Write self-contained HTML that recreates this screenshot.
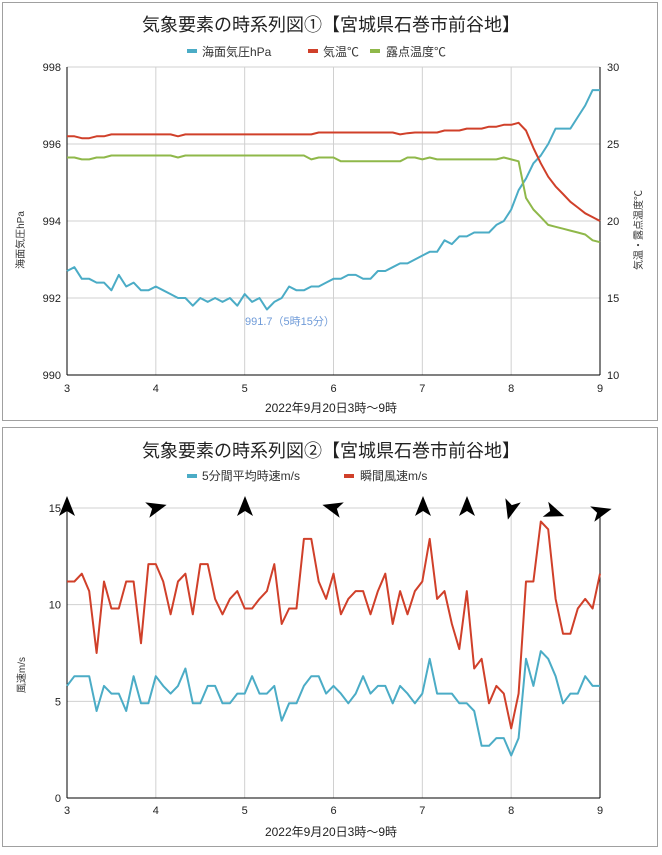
<!DOCTYPE html>
<html><head><meta charset="utf-8"><style>
body{margin:0;background:#fff;}
svg text{font-family:"Liberation Sans","Noto Sans CJK JP",sans-serif;}
</style></head><body>
<svg width="662" height="850" viewBox="0 0 662 850" xmlns="http://www.w3.org/2000/svg">
<rect x="0" y="0" width="662" height="850" fill="#fff"/>
<rect x="2.5" y="2.5" width="655" height="418" fill="none" stroke="#a0a0a0"/>
<rect x="2.5" y="427.5" width="655" height="419" fill="none" stroke="#a0a0a0"/>
<g id="c1"></g><g id="c2"></g>
<text x="331" y="31" font-size="18" text-anchor="middle" fill="#222">気象要素の時系列図①【宮城県石巻市前谷地】</text>
<rect x="187" y="49" width="10" height="4" fill="#4bacc6"/><text x="202" y="56" font-size="12" fill="#333">海面気圧hPa</text>
<rect x="308" y="49" width="10" height="4" fill="#d0402a"/><text x="323" y="56" font-size="12" fill="#333">気温℃</text>
<rect x="370" y="49" width="10" height="4" fill="#8fb84a"/><text x="386" y="56" font-size="12" fill="#333">露点温度℃</text>
<text x="24" y="240" font-size="10" fill="#333" transform="rotate(-90 24 240)" text-anchor="middle">海面気圧hPa</text>
<text x="642" y="230" font-size="10" fill="#333" transform="rotate(-90 642 230)" text-anchor="middle">気温・露点温度℃</text>
<text x="331" y="412" font-size="12" text-anchor="middle" fill="#222">2022年9月20日3時〜9時</text>
<text x="245" y="325" font-size="11" fill="#6f9bd8" text-anchor="start">991.7（5時15分）</text>
<text x="331" y="457" font-size="18" text-anchor="middle" fill="#222">気象要素の時系列図②【宮城県石巻市前谷地】</text>
<rect x="187" y="474" width="10" height="4" fill="#4bacc6"/><text x="202" y="480" font-size="12" fill="#333">5分間平均時速m/s</text>
<rect x="344" y="474" width="10" height="4" fill="#d0402a"/><text x="360" y="480" font-size="12" fill="#333">瞬間風速m/s</text>
<text x="25" y="675" font-size="10" fill="#333" transform="rotate(-90 25 675)" text-anchor="middle">風速m/s</text>
<text x="331" y="836" font-size="12" text-anchor="middle" fill="#222">2022年9月20日3時〜9時</text>
</svg>
<script>
(function(){
var NS="http://www.w3.org/2000/svg";
function el(p,t,a,txt){var e=document.createElementNS(NS,t);for(var k in a)e.setAttribute(k,a[k]);if(txt!==undefined)e.textContent=txt;p.appendChild(e);return e;}
var X0=67,X1=600;function X(h){return X0+(h-3)*(X1-X0)/6;}
var g=document.getElementById('c1');
var T=67,B=375;function Y1(p){return B-(p-990)*(B-T)/8;}
for(var h=3;h<=9;h++){el(g,'line',{x1:X(h),x2:X(h),y1:T,y2:B,stroke:'#d0d0d0'});el(g,'text',{x:X(h),y:B+17,'font-size':11,'text-anchor':'middle',fill:'#222'},h);}
for(var i=0;i<=4;i++){var p=990+2*i;el(g,'line',{x1:X0,x2:X1,y1:Y1(p),y2:Y1(p),stroke:'#d0d0d0'});
el(g,'text',{x:X0-6,y:Y1(p)+4,'font-size':11,'text-anchor':'end',fill:'#222'},p);
el(g,'text',{x:X1+7,y:Y1(p)+4,'font-size':11,fill:'#222'},10+5*i);}
el(g,'line',{x1:X0,x2:X0,y1:T,y2:B,stroke:'#000'});el(g,'line',{x1:X1,x2:X1,y1:T,y2:B,stroke:'#000'});el(g,'line',{x1:X0,x2:X1,y1:B,y2:B,stroke:'#000'});
var P=[992.7,992.8,992.5,992.5,992.4,992.4,992.2,992.6,992.3,992.4,992.2,992.2,992.3,992.2,992.1,992.0,992.0,991.8,992.0,991.9,992.0,991.9,992.0,991.8,992.1,991.9,992.0,991.7,991.9,992.0,992.3,992.2,992.2,992.3,992.3,992.4,992.5,992.5,992.6,992.6,992.5,992.5,992.7,992.7,992.8,992.9,992.9,993.0,993.1,993.2,993.2,993.5,993.4,993.6,993.6,993.7,993.7,993.7,993.9,994.0,994.3,994.8,995.1,995.5,995.7,996.0,996.4,996.4,996.4,996.7,997.0,997.4,997.4];
var R=[];
for(var k=0;k<73;k++){var t;
 if(k<2)t=996.2;else if(k<4)t=996.15;else if(k<6)t=996.2;else if(k<34)t=996.25;else if(k<48)t=996.3;else if(k<51)t=996.3;else if(k<54)t=996.35;else if(k<57)t=996.4;else t=996.45;
 R.push(t);}
R[15]=996.2;R[45]=996.25;R[46]=996.28;R[58]=996.45;R[59]=996.5;
var Rt=[996.5,996.55,996.35,995.9,995.5,995.15,994.9,994.7,994.5,994.35,994.2,994.1,994.0];
for(var k=60;k<73;k++)R[k]=Rt[k-60];
var G=[];
for(var k=0;k<73;k++){var d;
 if(k<2)d=995.65;else if(k<4)d=995.6;else if(k<6)d=995.65;else if(k<33)d=995.7;else if(k<37)d=995.65;else if(k<47)d=995.55;else d=995.6;
 G.push(d);}
G[15]=995.65;G[33]=995.6;G[46]=995.65;G[47]=995.65;G[49]=995.65;G[51]=995.6;G[56]=995.6;G[59]=995.65;
var Gt=[995.6,995.55,994.6,994.3,994.1,993.9,993.85,993.8,993.75,993.7,993.65,993.5,993.45];
for(var k=60;k<73;k++)G[k]=Gt[k-60];
function line(par,arr,f,col){var s='';for(var k=0;k<arr.length;k++){s+=(k?'L':'M')+X(3+k/12).toFixed(1)+','+f(arr[k]).toFixed(1);}el(par,'path',{d:s,fill:'none',stroke:col,'stroke-width':2,'stroke-linejoin':'round'});}
line(g,P,Y1,'#4bacc6');line(g,R,Y1,'#d0402a');line(g,G,Y1,'#8fb84a');
var g2=document.getElementById('c2');var T2=508,B2=798;function Y2(v){return B2-v*(B2-T2)/15;}
for(var h=3;h<=9;h++){el(g2,'line',{x1:X(h),x2:X(h),y1:T2,y2:B2,stroke:'#d0d0d0'});el(g2,'text',{x:X(h),y:B2+16,'font-size':11,'text-anchor':'middle',fill:'#222'},h);}
for(var v=0;v<=15;v+=5){el(g2,'line',{x1:X0,x2:X1,y1:Y2(v),y2:Y2(v),stroke:'#d0d0d0'});el(g2,'text',{x:X0-6,y:Y2(v)+4,'font-size':11,'text-anchor':'end',fill:'#222'},v);}
el(g2,'line',{x1:X0,x2:X0,y1:T2,y2:B2,stroke:'#000'});el(g2,'line',{x1:X1,x2:X1,y1:T2,y2:B2,stroke:'#000'});el(g2,'line',{x1:X0,x2:X1,y1:B2,y2:B2,stroke:'#000'});
var WR=[11.2,11.2,11.6,10.7,7.5,11.2,9.8,9.8,11.2,11.2,8.0,12.1,12.1,11.2,9.5,11.2,11.6,9.5,12.1,12.1,10.3,9.5,10.3,10.7,9.8,9.8,10.3,10.7,12.1,9.0,9.8,9.8,13.4,13.4,11.2,10.3,11.6,9.5,10.3,10.7,10.7,9.5,10.7,11.6,9.0,10.7,9.5,10.7,11.2,13.4,10.3,10.7,9.0,7.7,10.7,6.7,7.2,4.9,5.8,5.4,3.6,5.4,11.2,11.2,14.3,13.9,10.3,8.5,8.5,9.8,10.3,9.8,11.6];
var WB=[5.8,6.3,6.3,6.3,4.5,5.8,5.4,5.4,4.5,6.3,4.9,4.9,6.3,5.8,5.4,5.8,6.7,4.9,4.9,5.8,5.8,4.9,4.9,5.4,5.4,6.3,5.4,5.4,5.8,4.0,4.9,4.9,5.8,6.3,6.3,5.4,5.8,5.4,4.9,5.4,6.3,5.4,5.8,5.8,4.9,5.8,5.4,4.9,5.4,7.2,5.4,5.4,5.4,4.9,4.9,4.5,2.7,2.7,3.1,3.1,2.2,3.1,7.2,5.8,7.6,7.2,6.3,4.9,5.4,5.4,6.3,5.8,5.8];
line(g2,WB,Y2,'#4bacc6');line(g2,WR,Y2,'#d0402a');
var AR=[[67,508,0],[155,508,75],[245,508,0],[334,508,-75],[423,508,0],[467,508,0],[511,508,195],[553,512,110],[600,512,75]];
AR.forEach(function(a){el(g2,'path',{d:'M0,-12 L8,8 L0,3 L-8,8 Z',fill:'#000',transform:'translate('+a[0]+','+a[1]+') rotate('+a[2]+')'});});
})();
</script>
</body></html>
